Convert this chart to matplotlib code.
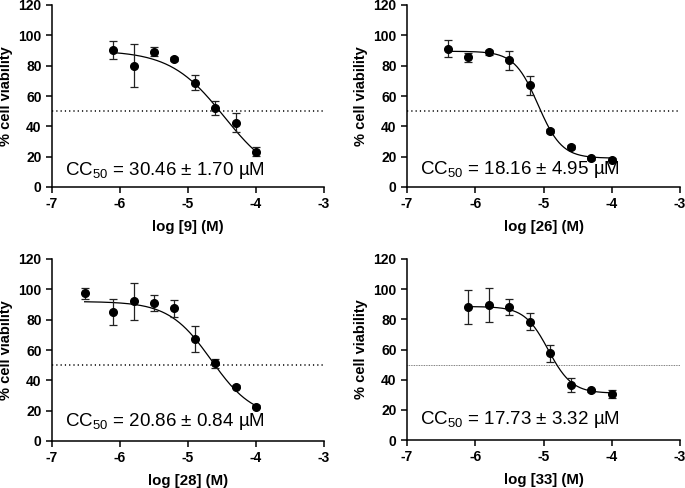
import matplotlib
matplotlib.use("Agg")
import matplotlib.pyplot as plt
import numpy as np

plt.rcParams['font.family'] = ['Liberation Sans', 'DejaVu Sans']
plt.rcParams['axes.unicode_minus'] = False
plt.rcParams['mathtext.fontset'] = 'custom'
plt.rcParams['mathtext.rm'] = 'Liberation Sans'
plt.rcParams['mathtext.it'] = 'Liberation Sans'
plt.rcParams['mathtext.default'] = 'rm'

# compound labels and CC50 text
compounds = ["9", "26", "28", "33"]
cc50_text = ["30.46 ± 1.70", "18.16 ± 4.95", "20.86 ± 0.84", "17.73 ± 3.32"]

# log concentration (M)
x_9 = [-6.1, -5.8, -5.5, -5.2, -4.9, -4.6, -4.3, -4.0]
x_26 = [-6.4, -6.1, -5.8, -5.5, -5.2, -4.9, -4.6, -4.3, -4.0]
x_28 = [-6.52, -6.1, -5.8, -5.5, -5.2, -4.9, -4.6, -4.3, -4.0]
x_33 = [-6.1, -5.8, -5.5, -5.2, -4.9, -4.6, -4.3, -4.0]

# % cell viability (mean) and error
y_9 = [90.1, 80.0, 89.3, 84.4, 68.9, 52.0, 42.5, 23.2]
e_9 = [6.0, 14.0, 3.0, 1.5, 4.7, 4.5, 6.0, 3.0]
y_26 = [91.2, 85.5, 88.8, 83.5, 67.0, 36.8, 26.4, 18.9, 18.1]
e_26 = [5.7, 2.8, 1.8, 6.4, 6.4, 1.5, 1.5, 1.0, 1.0]
y_28 = [97.4, 84.8, 92.1, 91.0, 87.4, 67.4, 51.1, 35.9, 22.5]
e_28 = [3.5, 8.6, 12.0, 5.2, 5.4, 8.6, 3.1, 1.0, 1.0]
y_33 = [88.2, 89.5, 88.0, 78.5, 57.5, 36.5, 32.9, 30.5]
e_33 = [11.5, 11.0, 5.3, 5.5, 5.7, 4.6, 1.0, 2.4]

# fitted 4PL curves: top, bottom, logCC50, hill slope
fit_9 = [90, 3, -4.47, 1.1]
fit_26 = [89.5, 19, -5.08, 2.5]
fit_28 = [92, 15, -4.66, 1.4]
fit_33 = [88.5, 31, -4.93, 2.5]


def four_pl(x, top, bottom, logc, hill):
    return bottom + (top - bottom) / (1 + 10 ** (hill * (x - logc)))


panels = [
    (x_9, y_9, e_9, fit_9, [52, 187, 272, 182], 7.9, 'fine'),
    (x_26, y_26, e_26, fit_26, [407, 187, 273, 182], 8.6, 'fine'),
    (x_28, y_28, e_28, fit_28, [52, 441, 272, 182], 10.0, 'fine'),
    (x_33, y_33, e_33, fit_33, [407, 440, 273, 181], 10.6, 'thin'),
]

W, H = 685, 488
fig = plt.figure(figsize=(W / 100, H / 100), dpi=100)

for i, (xs, ys, es, fit, box, ty, dot) in enumerate(panels):
    left, bottom_px, w, h = box
    ax = fig.add_axes([left / W, 1 - bottom_px / H, w / W, h / H])

    if dot == 'fine':
        ax.axhline(50, color='black', lw=1.1, dashes=(0.8, 2.0))
    else:
        ax.axhline(50, color='#555555', lw=0.6, dashes=(1, 1))

    xc = np.linspace(min(xs), max(xs), 200)
    ax.plot(xc, four_pl(xc, *fit), color='black', lw=0.9)
    ax.errorbar(xs, ys, yerr=es, fmt='o', color='black', ms=5.5,
                ecolor='#222222', elinewidth=0.9, capsize=2.8, capthick=0.9,
                clip_on=False, zorder=3)

    ax.text(-6.81, ty, f"CC$_{{50}}$ = {cc50_text[i]} µM", fontsize=13.5,
            va='baseline', ha='left')

    ax.set_xlim(-7, -3)
    ax.set_ylim(0, 120)
    ax.set_xticks([-7, -6, -5, -4, -3])
    ax.set_yticks([0, 20, 40, 60, 80, 100, 120])
    for sp in ['top', 'right']:
        ax.spines[sp].set_visible(False)
    for sp in ['left', 'bottom']:
        ax.spines[sp].set_linewidth(1.1)
    ax.tick_params(direction='out', length=4.5, width=1.1, labelsize=10, pad=3)
    for lab in ax.get_xticklabels() + ax.get_yticklabels():
        lab.set_fontweight('bold')
    ax.set_xlabel(f"log [{compounds[i]}] (M)", fontsize=10.8, fontweight='bold', labelpad=6)
    ax.set_ylabel("% cell viability", fontsize=10.5, fontweight='bold', labelpad=4)

fig.savefig("out.png", dpi=100)
